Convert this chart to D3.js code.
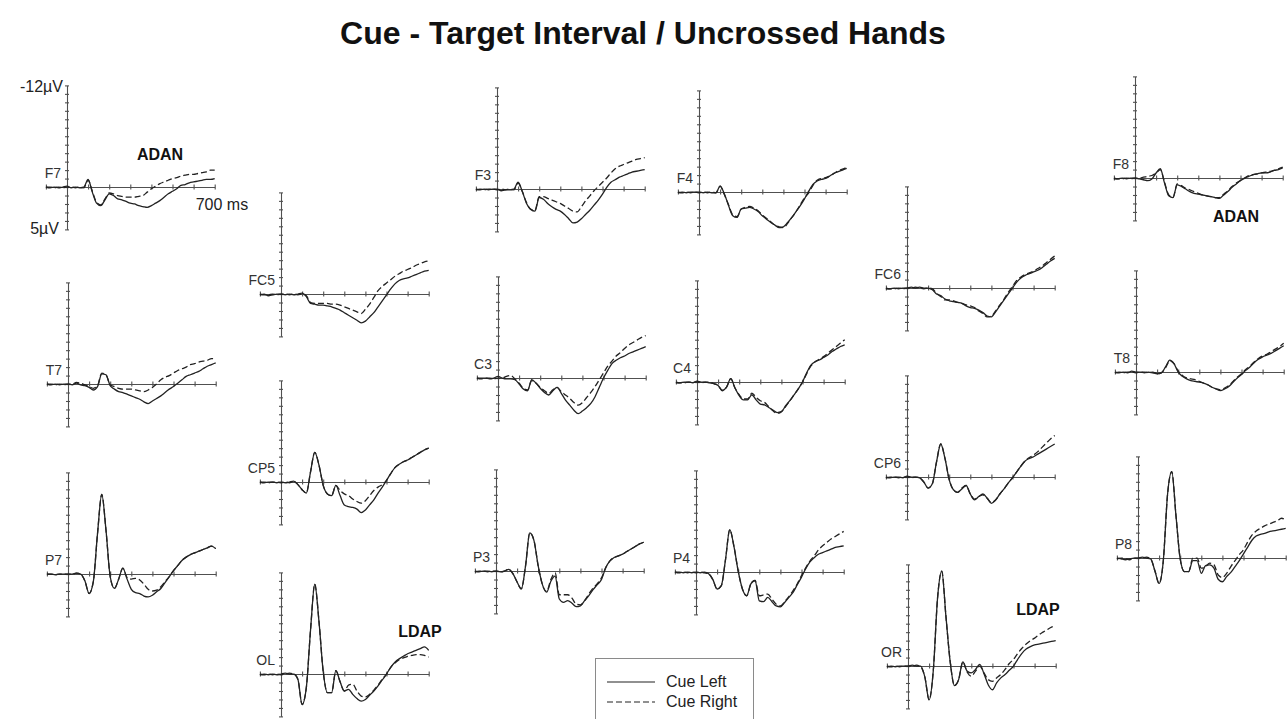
<!DOCTYPE html>
<html>
<head>
<meta charset="utf-8">
<script src="https://cdn.jsdelivr.net/npm/d3@7"></script>
<style>
	body { margin:0; background:#fff; }
	svg { display:block; font-family:"Liberation Sans", Arial, sans-serif; }
</style>
</head>
<body>
<div id="chart"></div>
<script>
// time points (ms) shared by every waveform
var times = [-100,-80,-60,-40,-20, 0,20,40,60,80, 100,120,140,160,180, 200,220,240,260,280, 300,320,340,360,380, 400,420,440,460,480, 500,520,540,560,580, 600,620,640,660,680, 700];

// amplitudes in microvolts (negative up), Cue Left = solid, Cue Right = dashed
var F7_left  = [0,0.1,0,0.1,0, -0.1,0.1,0,0.1,0, -0.9,0.6,1.9,2.2,1.5, 0.8,1.0,1.4,1.5,1.7, 1.9,2.0,2.2,2.3,2.4, 2.2,1.9,1.6,1.2,0.8, 0.5,0.2,-0.2,-0.3,-0.5, -0.6,-0.7,-0.8,-0.9,-0.9, -1.0];
var F7_right = [0,0,0.1,0,0.1, 0,0,0.1,0,0.1, -0.8,0.5,1.8,2.1,1.4, 0.7,0.8,1.0,1.1,1.2, 1.2,1.2,1.1,1.0,0.6, 0.2,-0.1,-0.4,-0.6,-0.8, -1.0,-1.1,-1.3,-1.4,-1.5, -1.5,-1.6,-1.7,-1.8,-2.0, -2.0];
var T7_left  = [0,0.1,0,0.1,0, 0,0.1,-0.1,0.1,0.2, 0.4,0.7,0.3,-1.2,-1.1, 0.2,0.6,0.9,1.0,1.2, 1.4,1.6,1.8,2.1,2.3, 2.0,1.7,1.4,1.0,0.6, 0.3,-0.1,-0.5,-0.9,-1.1, -1.3,-1.5,-1.8,-2.1,-2.3, -2.5];
var T7_right = [0,0,0.1,0,0.1, 0,0,-0.2,-0.1,0.1, 0.3,0.5,0.2,-1.3,-1.1, 0.1,0.3,0.5,0.6,0.6, 0.6,0.7,0.8,0.9,0.7, 0.4,0.0,-0.5,-0.8,-1.0, -1.3,-1.6,-1.8,-2.0,-2.3, -2.4,-2.6,-2.7,-2.8,-3.0, -3.0];
var P7_left  = [0,0,0.1,0,0, 0,0,-0.1,0,0.8, 2.3,0.9,-4.8,-9.4,-5.2, 0.3,1.7,0.6,-0.7,0.6, 1.8,2.2,2.3,2.6,2.7, 2.5,2.1,1.7,1.0,0.3, -0.4,-1.0,-1.6,-2.0,-2.3, -2.5,-2.7,-2.9,-3.1,-3.3, -3.0];
var P7_right = [0,0,0.1,0,0, 0,0,-0.1,0,0.8, 2.3,0.9,-4.8,-9.4,-5.2, 0.3,1.7,0.6,-0.7,0.4, 0.6,0.5,0.7,1.2,1.8, 2.0,1.9,1.5,0.9,0.3, -0.4,-1.0,-1.6,-2.0,-2.3, -2.5,-2.7,-2.9,-3.1,-3.3, -3.0];

var FC5_left  = [0.1,0,0.2,0.1,0, 0,0.1,0,0.1,0, -0.1,0.3,1.1,1.2,1.3, 1.3,1.4,1.5,1.7,1.9, 2.2,2.5,2.8,3.1,3.4, 3.2,2.7,2.2,1.5,0.8, 0.1,-0.6,-1.2,-1.6,-1.8, -1.9,-2.1,-2.3,-2.5,-2.7, -2.8];
var FC5_right = [0,0.1,0.1,0,0.1, 0,0,0.1,0,0.1, 0,0.2,1.0,1.1,1.1, 1.1,1.1,1.2,1.2,1.3, 1.5,1.7,1.9,2.1,2.3, 1.8,1.2,0.4,-0.4,-0.9, -1.3,-1.7,-2.1,-2.4,-2.7, -2.9,-3.1,-3.4,-3.6,-3.8, -3.9];
var CP5_left  = [0,0.1,0,0,0.1, 0,0.1,0,-0.1,0.3, 0.9,1.3,-1.2,-3.5,-2.0, 0.4,1.4,1.6,0.4,1.6, 2.7,2.9,3.0,3.2,3.6, 3.3,2.7,2.1,1.3,0.6, -0.2,-1.0,-1.7,-2.1,-2.4, -2.6,-2.9,-3.2,-3.5,-3.8, -4.0];
var CP5_right = [0,0,0.1,0,0, 0.1,0,0.1,-0.1,0.3, 0.9,1.3,-1.2,-3.5,-2.0, 0.4,1.4,1.6,0.4,1.0, 1.4,1.6,2.0,2.3,2.5, 2.2,1.6,1.0,0.6,0.3, -0.2,-1.0,-1.7,-2.1,-2.4, -2.6,-2.9,-3.2,-3.5,-3.8, -4.0];
var OL_left   = [0.1,0,0.1,0,0.1, 0,-0.1,0,0,0.6, 3.6,1.6,-5.2,-10.6,-6.2, -0.3,2.2,2.2,-0.4,0.9, 2.0,1.8,2.4,2.9,3.2, 3.0,2.5,2.0,1.4,0.7, 0.0,-0.8,-1.4,-1.8,-2.1, -2.4,-2.6,-2.8,-3.0,-3.2, -2.8];
var OL_right  = [0,0.1,0,0.1,0, 0.1,0,-0.1,0,0.6, 3.6,1.6,-5.2,-10.6,-6.2, -0.3,2.2,2.2,-0.4,0.9, 2.0,1.3,1.2,2.0,2.6, 2.7,2.4,1.9,1.3,0.6, 0.0,-0.8,-1.3,-1.7,-1.9, -2.1,-2.2,-2.3,-2.3,-2.2, -2.0];

var F3_left  = [0,0.1,0,0.1,0, 0,0.2,0.1,0.1,0, -0.8,0.3,1.7,2.4,2.6, 1.0,1.2,1.7,2.1,2.4, 2.6,3.0,3.5,4.0,3.9, 3.5,3.0,2.5,1.9,1.3, 0.6,-0.2,-0.8,-1.1,-1.4, -1.6,-1.8,-2.0,-2.1,-2.2, -2.3];
var F3_right = [0.1,0,0.1,0,0, 0.1,0,0.1,0,0.1, -0.7,0.3,1.6,2.4,2.5, 0.9,0.9,1.1,1.3,1.5, 1.7,2.0,2.3,2.6,2.7, 2.1,1.4,0.8,0.2,-0.3, -0.8,-1.3,-1.9,-2.4,-2.7, -2.9,-3.1,-3.3,-3.5,-3.6, -3.7];
var C3_left  = [0,0,0,0.1,0, -0.2,0,0.1,0.1,0.2, 0.7,1.3,1.5,0.2,0.6, 1.2,1.7,2.0,1.5,1.1, 1.8,2.6,3.2,3.8,4.2, 3.9,3.5,3.0,2.2,1.1, 0.0,-0.9,-1.7,-2.1,-2.4, -2.6,-2.9,-3.1,-3.3,-3.5, -3.7];
var C3_right = [0,0.1,0,0,0.1, 0,0,-0.2,-0.3,0.1, 0.6,1.2,1.4,0.3,0.6, 1.1,1.5,1.8,1.4,1.1, 1.6,2.0,2.4,2.9,3.2, 2.9,2.3,1.7,1.0,0.2, -0.6,-1.4,-2.0,-2.6,-3.0, -3.5,-3.9,-4.2,-4.5,-4.8, -5.0];
var P3_left  = [0,0.1,0,0,0.1, 0,0.1,0,-0.2,0.3, 1.3,2.1,-0.6,-4.5,-3.6, -0.6,1.6,2.5,1.2,0.6, 3.3,3.7,3.5,3.8,4.2, 4.1,3.5,2.9,2.2,1.6, 1.0,-0.4,-1.2,-1.6,-1.8, -2.0,-2.3,-2.6,-2.9,-3.2, -3.4];
var P3_right = [0.1,0,0,0.1,0, 0,0.1,0,-0.2,0.3, 1.3,2.1,-0.6,-4.5,-3.6, -0.6,1.6,2.4,1.0,0.2, 2.8,2.8,2.8,3.2,3.9, 4.0,3.5,2.7,2.0,1.5, 0.8,-0.4,-1.2,-1.6,-1.8, -2.0,-2.3,-2.6,-2.9,-3.2, -3.4];

var F4_left  = [0.1,0,0.1,0,0, 0,0.1,0,0.1,0.1, -0.7,0.2,1.6,2.8,3.0, 2.0,1.9,1.8,2.0,2.3, 2.8,3.2,3.6,3.9,4.2, 4.1,3.6,3.0,2.3,1.6, 0.8,-0.1,-0.9,-1.3,-1.5, -1.6,-1.9,-2.2,-2.4,-2.6, -2.8];
var F4_right = [0,0.1,0,0.1,0, 0.1,0,0.1,0,0.1, -0.7,0.3,1.5,2.7,2.9, 2.0,1.8,1.7,1.9,2.2, 2.7,3.1,3.5,3.9,4.1, 4.2,3.7,3.0,2.3,1.5, 0.7,0.1,-0.8,-1.4,-1.6, -1.7,-1.9,-2.2,-2.5,-2.7, -2.9];
var C4_left  = [0.1,0.1,0,0,0.1, -0.1,0,0,0.1,0.2, 0.4,1.0,0.6,-0.4,0.7, 1.6,2.1,2.1,1.5,2.1, 2.6,2.7,3.0,3.3,3.6, 3.5,2.8,2.2,1.5,0.8, 0.0,-1.1,-2.0,-2.4,-2.6, -2.9,-3.2,-3.6,-3.9,-4.2, -4.4];
var C4_right = [0,0.1,0.1,0,0, 0,0.1,0,0,0.2, 0.4,1.0,0.6,-0.4,0.7, 1.5,2.0,2.0,1.3,1.8, 2.2,2.4,2.9,3.4,3.7, 3.5,2.9,2.2,1.5,0.8, 0.0,-1.0,-1.9,-2.4,-2.7, -3.0,-3.4,-3.8,-4.2,-4.6, -5.0];
var P4_left  = [0,0,0.1,0,0.1, 0,0.1,0,0.2,0.9, 2.0,1.6,-1.5,-5.0,-3.0, -0.1,2.0,2.8,1.4,1.0, 3.4,3.5,3.0,3.5,4.0, 4.1,3.6,3.0,2.4,1.5, 0.6,-0.4,-1.2,-1.7,-2.1, -2.3,-2.5,-2.7,-2.9,-3.0, -3.1];
var P4_right = [0,0.1,0,0.1,0, 0.1,0,0.1,0.2,0.9, 2.0,1.6,-1.5,-5.0,-3.0, -0.1,2.0,2.8,1.4,1.0, 2.8,2.7,2.6,3.2,3.8, 4.0,3.5,2.9,2.2,1.4, 0.4,-0.5,-1.3,-1.9,-2.6, -3.1,-3.5,-3.9,-4.2,-4.5, -4.8];

var FC6_left  = [0.1,0.1,0,0.1,0, 0,-0.1,0,-0.1,0, 0,0.2,0.7,0.9,1.3, 1.5,1.6,1.7,1.8,2.1, 2.3,2.4,2.6,2.9,3.3, 3.4,2.8,2.1,1.4,0.7, 0.0,-0.7,-1.2,-1.5,-1.7, -1.9,-2.1,-2.4,-2.8,-3.2, -3.5];
var FC6_right = [0,0.1,0.1,0,0.1, 0,0,-0.1,0,0.1, 0,0.1,0.6,1.0,1.4, 1.4,1.5,1.7,1.8,2.0, 2.1,2.3,2.7,3.0,3.4, 3.3,2.7,2.0,1.3,0.5, -0.2,-0.9,-1.3,-1.6,-1.8, -2.0,-2.3,-2.6,-3.0,-3.4, -3.8];
var CP6_left  = [0,0.1,0,0,0.1, -0.1,0,0,0.1,0.6, 1.3,0.8,-1.8,-3.9,-2.2, 0.3,1.5,1.8,1.4,1.0, 2.0,2.7,2.3,2.0,2.5, 3.1,2.7,2.0,1.4,0.7, 0.1,-0.6,-1.3,-1.9,-2.2, -2.4,-2.7,-3.0,-3.3,-3.6, -3.9];
var CP6_right = [0.1,0,0,0.1,0, 0,0.1,0,0.1,0.6, 1.3,0.8,-1.8,-3.9,-2.2, 0.3,1.5,1.8,1.3,1.0, 2.0,2.6,2.3,2.1,2.5, 3.0,2.7,2.0,1.4,0.7, 0.1,-0.6,-1.3,-1.9,-2.3, -2.6,-3.0,-3.5,-4.0,-4.5, -4.9];
var OR_left   = [0.1,0,0.1,0,0, 0,-0.1,0,0,1.3, 4.0,0.5,-8.0,-11.2,-5.8, -0.5,2.3,1.6,-0.5,0.6, 0.8,0.4,-0.2,0.9,2.2, 2.8,2.0,1.4,1.0,0.5, 0.0,-0.8,-1.5,-2.0,-2.3, -2.5,-2.6,-2.7,-2.8,-2.9, -3.0];
var OR_right  = [0,0.1,0,0.1,0, 0,0,-0.1,0.1,1.3, 4.0,0.5,-8.0,-11.2,-5.8, -0.5,2.3,1.6,-0.5,0.7, 1.2,0.6,0.0,0.8,1.6, 1.8,1.4,1.0,0.4,-0.3, -0.8,-1.5,-2.1,-2.6,-3.0, -3.3,-3.7,-4.0,-4.3,-4.6, -4.7];

var F8_left  = [0.1,0.1,0,0.1,0, 0,0.1,0.2,0.3,0.1, -0.6,-1.1,0.6,2.1,2.3, 0.8,1.0,1.3,1.6,1.8, 1.9,2.0,2.1,2.2,2.3, 2.4,2.0,1.6,1.1,0.7, 0.3,0.0,-0.2,-0.4,-0.5, -0.6,-0.6,-0.7,-0.9,-1.0, -1.2];
var F8_right = [0,0.1,0.1,0,0.1, 0,0,-0.1,-0.2,-0.3, -0.6,-1.0,0.5,2.0,2.3, 0.7,0.9,1.2,1.4,1.6, 1.8,2.0,2.1,2.2,2.3, 2.3,1.9,1.5,1.0,0.6, 0.3,0.0,-0.3,-0.4,-0.5, -0.6,-0.7,-0.8,-0.9,-1.1, -1.3];
var T8_left  = [0,0.1,0,0.1,-0.1, 0,0,0.1,0,0.1, 0.2,0.1,-0.6,-1.4,-1.0, 0,0.5,0.8,1.0,1.1, 1.2,1.3,1.5,1.8,2.0, 2.2,2.0,1.7,1.2,0.7, 0.3,-0.2,-0.6,-1.1,-1.5, -1.8,-2.0,-2.2,-2.5,-2.8, -3.1];
var T8_right = [0.1,0,0.1,0,0, 0.1,0,0,0.1,0, 0.2,0.1,-0.5,-1.3,-1.0, -0.1,0.4,0.7,0.8,0.9, 1.1,1.3,1.5,1.8,2.0, 2.1,1.9,1.6,1.1,0.6, 0.2,-0.3,-0.7,-1.2,-1.6, -1.9,-2.1,-2.4,-2.7,-3.0, -3.4];
var P8_left  = [0,0.1,0.2,0.1,0, 0,-0.1,0,0.1,1.5, 3.0,0.3,-7.5,-10.2,-5.0, 0.1,1.6,1.6,0.3,0.3, 1.8,0.9,0.8,1.2,2.5, 2.8,2.2,1.7,1.0,0.3, -0.5,-1.3,-2.1,-2.6,-2.8, -2.9,-3.1,-3.2,-3.3,-3.4, -3.5];
var P8_right = [0.1,0,0.1,0.2,0, 0,0,-0.1,0.1,1.5, 3.0,0.3,-7.5,-10.2,-5.0, 0.1,1.6,1.6,0.0,0.0, 1.2,1.0,0.6,0.8,2.0, 2.3,1.8,1.0,0.3,-0.4, -1.0,-1.9,-2.7,-3.2,-3.5, -3.8,-4.0,-4.2,-4.4,-4.7, -4.5];

var yTicks = [-12,-11,-10,-9,-8,-7,-6,-5,-4,-3,-2,-1,0,1,2,3,4,5];
var xTicks = [-100,0,100,200,300,400,500,600,700];

// panel placement: origin (0 ms, 0 uV) of each electrode in page pixels
var panels = [
	{name:"F7",  left:F7_left,  right:F7_right,  x:67,   y:187},
	{name:"T7",  left:T7_left,  right:T7_right,  x:68,   y:384},
	{name:"P7",  left:P7_left,  right:P7_right,  x:68,   y:574},
	{name:"FC5", left:FC5_left, right:FC5_right, x:281,  y:294},
	{name:"CP5", left:CP5_left, right:CP5_right, x:281,  y:482},
	{name:"OL",  left:OL_left,  right:OL_right,  x:281,  y:674},
	{name:"F3",  left:F3_left,  right:F3_right,  x:497,  y:189},
	{name:"C3",  left:C3_left,  right:C3_right,  x:498,  y:378},
	{name:"P3",  left:P3_left,  right:P3_right,  x:496,  y:571},
	{name:"F4",  left:F4_left,  right:F4_right,  x:699,  y:192},
	{name:"C4",  left:C4_left,  right:C4_right,  x:697,  y:382},
	{name:"P4",  left:P4_left,  right:P4_right,  x:696,  y:572},
	{name:"FC6", left:FC6_left, right:FC6_right, x:907,  y:288},
	{name:"CP6", left:CP6_left, right:CP6_right, x:907,  y:477},
	{name:"OR",  left:OR_left,  right:OR_right,  x:908,  y:666},
	{name:"F8",  left:F8_left,  right:F8_right,  x:1135, y:178},
	{name:"T8",  left:T8_left,  right:T8_right,  x:1136, y:372},
	{name:"P8",  left:P8_left,  right:P8_right,  x:1138, y:558}
];

var width = 1287, height = 719;
var ink = "#222";

var svg = d3.select("#chart").append("svg")
	.attr("width", width)
	.attr("height", height);

svg.append("text")
	.attr("x", 643).attr("y", 44)
	.attr("text-anchor", "middle")
	.attr("font-size", "32px")
	.attr("font-weight", "bold")
	.attr("fill", "#111")
	.text("Cue - Target Interval / Uncrossed Hands");

// shared scales, each panel is translated to its own origin
var x = d3.scaleLinear().domain([-100, 700]).range([-21.1, 147.7]);
var y = d3.scaleLinear().domain([-12, 5]).range([-101.6, 42.4]);

var line = d3.line()
	.x(function(d){ return x(d[0]); })
	.y(function(d){ return y(d[1]); })
	.curve(d3.curveMonotoneX);

panels.forEach(function(p){
	var g = svg.append("g")
		.attr("class", "panel")
		.attr("transform", "translate(" + p.x + "," + p.y + ")");

	// y axis, ticks crossing both sides
	var ya = g.append("g")
		.call(d3.axisLeft(y).tickValues(yTicks).tickFormat("").tickSizeOuter(0));
	ya.selectAll(".tick line").attr("x1", -2).attr("x2", 2);

	// x axis at 0 uV
	var xa = g.append("g")
		.call(d3.axisBottom(x).tickValues(xTicks).tickFormat("").tickSizeOuter(0));
	xa.selectAll(".tick line").attr("y1", -2.5).attr("y2", 2.5);

	g.selectAll(".domain, .tick line").attr("stroke", "#505050").attr("stroke-width", 1.1);

	g.append("text")
		.attr("x", -6).attr("y", -9)
		.attr("text-anchor", "end")
		.attr("font-size", "14px")
		.attr("fill", "#333")
		.text(p.name);

	g.append("path")
		.datum(d3.zip(times, p.right))
		.attr("d", line)
		.attr("fill", "none")
		.attr("stroke", ink)
		.attr("stroke-width", 1.3)
		.attr("stroke-dasharray", "6,3");

	g.append("path")
		.datum(d3.zip(times, p.left))
		.attr("d", line)
		.attr("fill", "none")
		.attr("stroke", ink)
		.attr("stroke-width", 1.3);
});

// scale labels on the first panel
var first = svg.append("g").attr("transform", "translate(67,187)");
first.append("text").attr("x", -4).attr("y", y(-12) + 7)
	.attr("text-anchor", "end").attr("font-size", "16px").attr("fill", "#222")
	.text("-12\u00B5V");
first.append("text").attr("x", -8).attr("y", y(5) + 5)
	.attr("text-anchor", "end").attr("font-size", "16px").attr("fill", "#222")
	.text("5\u00B5V");
first.append("text").attr("x", x(700) - 19).attr("y", 23)
	.attr("font-size", "16px").attr("fill", "#222")
	.text("700 ms");

// component annotations
var notes = [
	{text:"ADAN", x:160,  y:160},
	{text:"ADAN", x:1236, y:222},
	{text:"LDAP", x:420,  y:637},
	{text:"LDAP", x:1038, y:615}
];
svg.selectAll("text.note")
	.data(notes)
	.enter()
	.append("text")
	.attr("class", "note")
	.attr("x", function(d){ return d.x; })
	.attr("y", function(d){ return d.y; })
	.attr("text-anchor", "middle")
	.attr("font-size", "16px")
	.attr("font-weight", "bold")
	.attr("fill", "#111")
	.text(function(d){ return d.text; });

// legend
var legend = svg.append("g").attr("transform", "translate(595,658)");
legend.append("rect")
	.attr("x", 0.5).attr("y", 0.5)
	.attr("width", 158).attr("height", 80)
	.attr("fill", "#fff")
	.attr("stroke", "#8a8a8a");
var legendItems = [
	{label:"Cue Left", dash:null},
	{label:"Cue Right", dash:"6,3"}
];
legendItems.forEach(function(d, i){
	legend.append("line")
		.attr("x1", 12).attr("x2", 60)
		.attr("y1", 24 + i*20).attr("y2", 24 + i*20)
		.attr("stroke", ink)
		.attr("stroke-width", 1.2)
		.attr("stroke-dasharray", d.dash);
	legend.append("text")
		.attr("x", 71).attr("y", 29 + i*20)
		.attr("font-size", "16px")
		.attr("fill", "#222")
		.text(d.label);
});
</script>
</body>
</html>
